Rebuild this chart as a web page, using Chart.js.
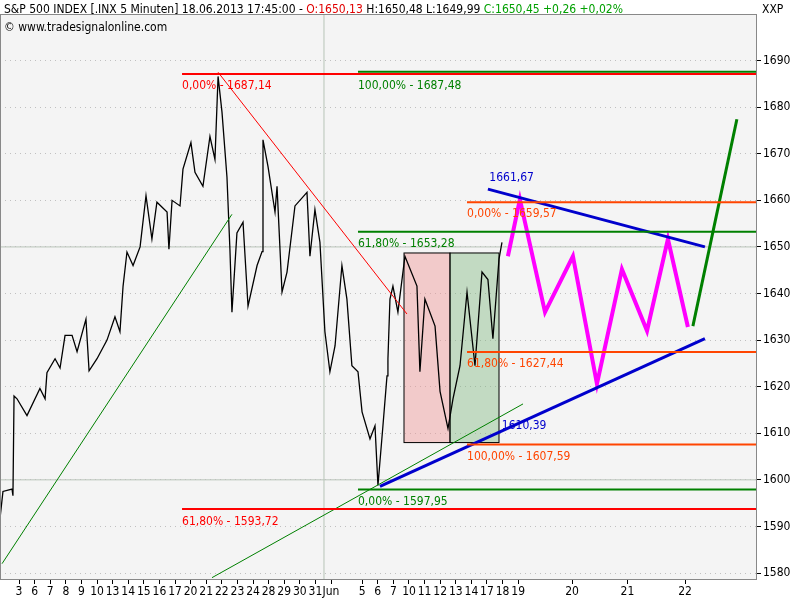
<!DOCTYPE html>
<html>
<head>
<meta charset="utf-8">
<script src="https://cdn.jsdelivr.net/npm/chart.js@4"></script>
<style>
  body { margin: 0; background: #fff; }
  #wrap { position: relative; width: 800px; height: 600px; }
  #hdr { position: absolute; left: 4px; top: 2px; font: 12px "DejaVu Sans Condensed", "DejaVu Sans"; color: #000; white-space: nowrap; }
  #src { position: absolute; left: 4px; top: 20px; font: 12px "DejaVu Sans Condensed", "DejaVu Sans"; color: #000; }
  #sym { position: absolute; left: 762px; top: 2px; font: 12px "DejaVu Sans Condensed", "DejaVu Sans"; }
  .r { color: #e00000; } .g { color: #00a000; }
</style>
</head>
<body>
<div id="wrap">
  <canvas id="c" width="800" height="600"></canvas>
  <div id="hdr">S&amp;P 500 INDEX [.INX  5 Minuten] 18.06.2013 17:45:00 - <span class="r">O:1650,13</span> H:1650,48 L:1649,99 <span class="g">C:1650,45 +0,26 +0,02%</span></div>
  <div id="src">© www.tradesignalonline.com</div>
  <div id="sym">XXP</div>
</div>
<script>
// price path, x in trading-day units (forecast days are stretched)
const priceX = [-0.77,-0.58,0,0.06,0.13,0.32,0.96,1.79,2.12,2.24,2.76,3.08,3.40,3.85,4.17,4.74,4.94,5.45,6.09,6.60,6.92,7.12,7.37,7.76,8.21,8.59,8.97,9.29,9.94,10.06,10.26,10.77,10.96,11.47,11.73,12.24,12.69,13.01,13.21,13.46,13.78,13.97,14.10,14.42,14.81,15.13,15.71,16.03,16.09,16.41,16.86,16.99,17.31,17.63,18.14,18.91,19.10,19.42,19.74,20.06,20.38,20.71,21.15,21.47,21.79,22.18,22.44,22.95,23.27,23.46,23.78,24.04,24.10,24.23,24.42,24.74,25.19,25.96,26.15,26.47,27.12,27.44,27.95,28.27,28.72,29.17,29.68,30.13,30.51,30.83,31.22,31.41];
const priceY = [1591.7,1597.5,1598,1596.6,1618,1617.4,1613.8,1619.6,1617.4,1623,1626,1624,1631,1631,1627.5,1634.5,1623.4,1626,1630,1635,1631.8,1641.6,1648.9,1646,1650,1661,1651.7,1659.6,1657.5,1649.5,1660,1658.8,1666.7,1672.4,1666,1663,1673.7,1668.8,1686.6,1679,1665,1649.5,1636,1653,1655.3,1637.3,1646,1649,1673,1667.3,1657.5,1663,1640.3,1644.6,1658.8,1661.7,1648,1658,1651,1631.8,1623.2,1628.8,1646,1638.8,1624.5,1623.2,1614.6,1608.8,1611.6,1598.8,1611.6,1622.3,1626,1638.8,1641.6,1636,1648,1641.6,1623.2,1638.8,1633,1619,1611,1617.4,1624.5,1640.3,1624.5,1644.6,1643,1630.3,1647.4,1651];
const zigX = [31.79,32.56,34.17,35.96,37.5,39.1,40.71,42.05,43.33];
const zigY = [1648,1660.2,1636,1648,1620.6,1645.2,1632,1651.7,1632.8];
const upX = [43.65,46.47];
const upY = [1633,1677.4];

const tickPos = [0,1,2,3,4,5,6,7,8,9,10,11,12,13,14,15,16,17,18,19,20,22,23,24,25,26,27,28,29,30,31,32,35.45,39.0,42.7];
const tickLbl = ['3','6','7','8','9','10','13','14','15','16','17','20','21','22','23','24','28','29','30','31','Jun','5','6','7','10','11','12','13','14','17','18','19','20','21','22'];
const priceTicks = [1580,1590,1600,1610,1620,1630,1640,1650,1660,1670,1680,1690];

// [x1, y1, x2, y2, colour, width]
const segs = [
  [10.9,1687.14,47.76,1687.14,'#ff0000',2],
  [22.18,1687.6,47.76,1687.6,'#008000',2],
  [10.9,1593.72,47.76,1593.72,'#ff0000',2],
  [22.18,1653.28,47.76,1653.28,'#008000',2],
  [22.18,1597.95,47.76,1597.95,'#008000',2],
  [29.17,1659.57,47.76,1659.57,'#ff4500',2],
  [29.17,1627.44,47.76,1627.44,'#ff4500',2],
  [29.17,1607.59,47.76,1607.59,'#ff4500',2],
  [13.21,1687.5,25.32,1635.6,'#ff0000',1],
  [-0.64,1582,14.10,1657,'#008000',1],
  [12.82,1579,32.76,1616.3,'#008000',1],
  [30.51,1662.4,44.42,1650,'#0000cc',3],
  [23.59,1598.6,44.42,1630.3,'#0000cc',3]
];
// [text, x, y, colour]
const notes = [
  ['0,00% - 1687,14',10.9,1684.5,'#ff0000'],
  ['100,00% - 1687,48',22.18,1684.5,'#008000'],
  ['61,80% - 1593,72',10.9,1591,'#ff0000'],
  ['61,80% - 1653,28',22.18,1650.6,'#008000'],
  ['0,00% - 1597,95',22.18,1595.3,'#008000'],
  ['0,00% - 1659,57',29.17,1657,'#ff4500'],
  ['61,80% - 1627,44',29.17,1624.8,'#ff4500'],
  ['100,00% - 1607,59',29.17,1605,'#ff4500'],
  ['1661,67',30.6,1664.9,'#0000cc'],
  ['1610,39',31.4,1611.6,'#0000cc']
];
// [x1, x2, yTop, yBottom, fill]
const boxes = [
  [25.13,28.08,1648.7,1608,'rgba(240,150,150,0.45)'],
  [28.08,31.22,1648.7,1608,'rgba(120,180,120,0.4)']
];

const xy = (xs, ys) => xs.map((x, i) => ({ x: x, y: ys[i] }));

const datasets = segs.map(s => ({
  data: [{ x: s[0], y: s[1] }, { x: s[2], y: s[3] }],
  borderColor: s[4], borderWidth: s[5], pointRadius: 0
}));
datasets.push({ data: xy(priceX, priceY), borderColor: '#000', borderWidth: 1.3, pointRadius: 0 });
datasets.push({ data: xy(zigX, zigY), borderColor: '#ff00ff', borderWidth: 4, pointRadius: 0 });
datasets.push({ data: xy(upX, upY), borderColor: '#008000', borderWidth: 3, pointRadius: 0 });

const extras = {
  id: 'extras',
  beforeDraw(chart) {
    const { ctx, chartArea: a, scales: { x, y } } = chart;
    ctx.save();
    ctx.fillStyle = '#f4f4f4';
    ctx.fillRect(a.left, a.top, a.width, a.height);
    ctx.strokeStyle = '#b8c4b8';
    ctx.lineWidth = 1;
    ctx.beginPath();
    ctx.moveTo(x.getPixelForValue(20), a.top); ctx.lineTo(x.getPixelForValue(20), a.bottom);
    [1650, 1600].forEach(v => { ctx.moveTo(a.left, y.getPixelForValue(v)); ctx.lineTo(a.right, y.getPixelForValue(v)); });
    ctx.stroke();
    ctx.restore();
  },
  beforeDatasetsDraw(chart) {
    const { ctx, scales: { x, y } } = chart;
    ctx.save();
    boxes.forEach(b => {
      const l = x.getPixelForValue(b[0]), r = x.getPixelForValue(b[1]);
      const t = y.getPixelForValue(b[2]), btm = y.getPixelForValue(b[3]);
      ctx.fillStyle = b[4];
      ctx.fillRect(l, t, r - l, btm - t);
      ctx.strokeStyle = '#000';
      ctx.lineWidth = 1;
      ctx.strokeRect(l, t, r - l, btm - t);
    });
    ctx.restore();
  },
  afterDraw(chart) {
    const { ctx, chartArea: a, scales: { x, y } } = chart;
    ctx.save();
    ctx.font = '12px "DejaVu Sans Condensed", "DejaVu Sans"';
    ctx.textBaseline = 'middle';
    notes.forEach(n => {
      ctx.fillStyle = n[3];
      ctx.fillText(n[0], x.getPixelForValue(n[1]), y.getPixelForValue(n[2]));
    });
    ctx.strokeStyle = '#888';
    ctx.lineWidth = 1;
    ctx.strokeRect(a.left + 0.5, a.top + 0.5, a.width - 1, a.height - 1);
    ctx.restore();
  }
};

new Chart(document.getElementById('c'), {
  type: 'line',
  data: { datasets: datasets },
  options: {
    responsive: false,
    animation: false,
    layout: { padding: { top: 14, left: 0, right: 0, bottom: 2 } },
    plugins: { legend: { display: false }, tooltip: { enabled: false } },
    scales: {
      x: {
        type: 'linear', min: -0.77, max: 47.76,
        afterBuildTicks: s => { s.ticks = tickPos.map(v => ({ value: v + 0.45 })); },
        afterFit: s => { s.height = 18; },
        ticks: {
          autoSkip: false, maxRotation: 0, padding: 1,
          color: '#000', font: { family: '"DejaVu Sans Condensed", "DejaVu Sans"', size: 12 },
          callback: (v, i) => tickLbl[i]
        },
        grid: { drawOnChartArea: false, tickLength: 4, color: '#000' },
        border: { display: false }
      },
      y: {
        position: 'right', min: 1578.5, max: 1700,
        afterBuildTicks: s => { s.ticks = priceTicks.map(v => ({ value: v })); },
        afterFit: s => { s.width = 43; },
        ticks: {
          color: '#000', padding: 2, font: { family: '"DejaVu Sans Condensed", "DejaVu Sans"', size: 12 },
          callback: v => String(v)
        },
        grid: { color: '#c0c0c0', tickLength: 4, tickColor: '#000', lineWidth: 1 },
        border: { display: false, dash: [1, 4] }
      }
    }
  },
  plugins: [extras]
});
</script>
</body>
</html>
